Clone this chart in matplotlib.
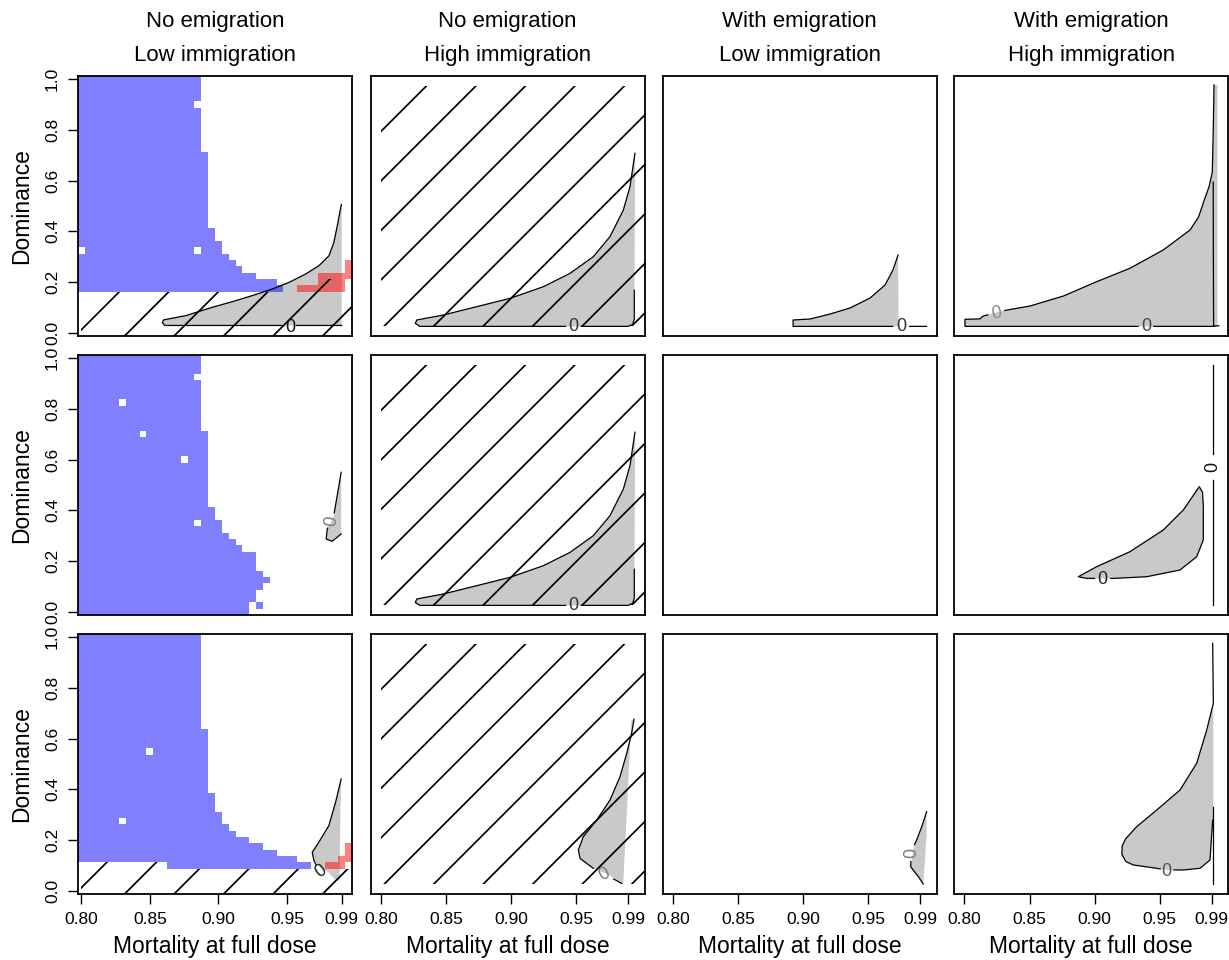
import numpy as np
import matplotlib
matplotlib.use("Agg")
import matplotlib.pyplot as plt
from matplotlib.patches import Polygon

plt.rcParams['font.family'] = ['Liberation Sans', 'DejaVu Sans']

# ---------------- text ----------------
title_top = ['No emigration', 'No emigration', 'With emigration', 'With emigration']
title_bot = ['Low immigration', 'High immigration', 'Low immigration', 'High immigration']
x_label = 'Mortality at full dose'
y_label = 'Dominance'
mort_ticks = [0.80, 0.85, 0.90, 0.95, 0.99]
mort_tick_labels = ['0.80', '0.85', '0.90', '0.95', '0.99']
dom_ticks = [0.0, 0.2, 0.4, 0.6, 0.8, 1.0]
dom_tick_labels = ['0.0', '0.2', '0.4', '0.6', '0.8', '1.0']

# simulated parameter cells (centres)
mort_cells = np.round(np.arange(0.800, 0.9951, 0.005), 3)
dom_cells = np.round(np.arange(0.0, 1.0001, 0.025), 3)

# ---------------- first column: blue / red cells ----------------
# bands: (dominance from, dominance to, mortality from, mortality to)
blue_row1 = [(0.175, 0.175, 0.80, 0.945), (0.2, 0.2, 0.80, 0.94), (0.225, 0.225, 0.80, 0.925),
             (0.25, 0.25, 0.80, 0.915), (0.275, 0.275, 0.80, 0.91), (0.3, 0.3, 0.80, 0.905),
             (0.325, 0.35, 0.80, 0.90), (0.375, 0.4, 0.80, 0.895), (0.425, 0.7, 0.80, 0.89),
             (0.725, 1.0, 0.80, 0.885)]
holes_row1 = [(0.80, 0.325), (0.885, 0.325), (0.885, 0.9)]
red_row1 = [(0.96, 0.175), (0.965, 0.175), (0.97, 0.175), (0.975, 0.175), (0.98, 0.175),
            (0.985, 0.175), (0.99, 0.175), (0.975, 0.2), (0.98, 0.2), (0.985, 0.2), (0.99, 0.2),
            (0.975, 0.225), (0.98, 0.225), (0.985, 0.225), (0.99, 0.225), (0.995, 0.225),
            (0.995, 0.25), (0.995, 0.275)]

blue_row2 = [(0.0, 0.025, 0.80, 0.92), (0.05, 0.075, 0.80, 0.925), (0.1, 0.1, 0.80, 0.93),
             (0.125, 0.125, 0.80, 0.935), (0.15, 0.15, 0.80, 0.93), (0.175, 0.225, 0.80, 0.925),
             (0.25, 0.25, 0.80, 0.915), (0.275, 0.275, 0.80, 0.91), (0.3, 0.3, 0.80, 0.905),
             (0.325, 0.35, 0.80, 0.90), (0.375, 0.4, 0.80, 0.895), (0.425, 0.7, 0.80, 0.89),
             (0.725, 1.0, 0.80, 0.885), (0.025, 0.025, 0.93, 0.93)]
holes_row2 = [(0.885, 0.925), (0.83, 0.825), (0.845, 0.7), (0.875, 0.6), (0.885, 0.35)]
red_row2 = []

blue_row3 = [(0.1, 0.1, 0.865, 0.965), (0.125, 0.125, 0.80, 0.955), (0.15, 0.15, 0.80, 0.94),
             (0.175, 0.175, 0.80, 0.93), (0.2, 0.2, 0.80, 0.92), (0.225, 0.225, 0.80, 0.91),
             (0.25, 0.25, 0.80, 0.905), (0.275, 0.3, 0.80, 0.90), (0.325, 0.375, 0.80, 0.895),
             (0.4, 0.625, 0.80, 0.89), (0.65, 1.0, 0.80, 0.885)]
holes_row3 = [(0.85, 0.55), (0.83, 0.275)]
red_row3 = [(0.98, 0.1), (0.985, 0.1), (0.99, 0.1), (0.99, 0.125), (0.995, 0.125),
            (0.995, 0.15), (0.995, 0.175)]

# ---------------- hatched areas ----------------
hatch_r1c1_x = [0.80, 0.80, 0.9475, 0.9475, 0.9725, 0.9725, 1.01, 1.01]
hatch_r1c1_y = [-0.05, 0.1625, 0.1625, 0.1875, 0.1875, 0.2125, 0.2125, -0.05]
hatch_r3c1_x = [0.80, 0.80, 0.8625, 0.8625, 1.01, 1.01]
hatch_r3c1_y = [-0.05, 0.1125, 0.1125, 0.0875, 0.0875, -0.05]
hatch_c2_x = [0.80, 0.80, 1.01, 1.01]
hatch_c2_y = [0.0, 1.0, 1.0, 0.0]

# ---------------- grey regions and zero contours ----------------
nan = np.nan
g11_x = [0.859, 0.860, 0.8763, 0.8957, 0.9103, 0.9249, 0.9394, 0.9516, 0.9637, 0.9734, 0.9807,
         0.9843, 0.9868, 0.9897, 0.990, 0.990, 0.861]
g11_y = [0.040, 0.051, 0.068, 0.101, 0.123, 0.147, 0.173, 0.199, 0.232, 0.265, 0.304,
         0.357, 0.423, 0.506, 0.506, 0.029, 0.029]
l11_x = [0.9897, 0.9868, 0.9843, 0.9807, 0.9734, 0.9637, 0.9516, 0.9394, 0.9249, 0.9103, 0.8957,
         0.8763, 0.860, 0.859, 0.861, 0.948, nan, 0.957, 0.990]
l11_y = [0.506, 0.423, 0.357, 0.304, 0.265, 0.232, 0.199, 0.173, 0.147, 0.123, 0.101,
         0.068, 0.051, 0.040, 0.029, 0.029, nan, 0.029, 0.029]

g12_x = [0.8265, 0.8276, 0.8480, 0.8737, 0.8993, 0.9249, 0.9454, 0.9633, 0.9761, 0.9864, 0.9915,
         0.9953, 0.9955, 0.9948, 0.9935, 0.990, 0.830]
g12_y = [0.012, 0.0265, 0.0472, 0.0818, 0.1164, 0.1648, 0.2202, 0.2895, 0.3725, 0.4835, 0.5803,
         0.719, 0.70, 0.03, 0.008, 0.0, 0.0]
l12_x = [0.9953, 0.9915, 0.9864, 0.9761, 0.9633, 0.9454, 0.9249, 0.8993, 0.8737, 0.8480, 0.8276,
         0.8265, 0.830, 0.942, nan, 0.954, 0.990, 0.9935, 0.9948, 0.9948]
l12_y = [0.719, 0.5803, 0.4835, 0.3725, 0.2895, 0.2202, 0.1648, 0.1164, 0.0818, 0.0472, 0.0265,
         0.012, 0.0, 0.0, nan, 0.0, 0.0, 0.008, 0.03, 0.15]

g13_x = [0.8924, 0.9055, 0.9209, 0.9362, 0.9516, 0.9631, 0.9692, 0.9731, 0.9735, 0.8924]
g13_y = [0.0265, 0.0306, 0.0514, 0.0763, 0.1179, 0.1719, 0.2342, 0.2965, 0.0, 0.0]
l13_x = [0.9731, 0.9692, 0.9631, 0.9516, 0.9362, 0.9209, 0.9055, 0.8924, 0.8924, 0.969, nan, 0.982, 0.995]
l13_y = [0.2965, 0.2342, 0.1719, 0.1179, 0.0763, 0.0514, 0.0306, 0.0265, 0.0, 0.0, nan, 0.0, 0.0]

g14_x = [0.8004, 0.8118, 0.8145, 0.8250, 0.835, 0.8504, 0.876, 0.9016, 0.9272, 0.9528, 0.9734,
         0.9800, 0.9840, 0.9880, 0.9905, 0.9913, 0.9918, 0.9945, 0.9945, 0.8004]
g14_y = [0.0294, 0.031, 0.0431, 0.058, 0.070, 0.0846, 0.126, 0.1856, 0.2413, 0.3173, 0.4004,
         0.455, 0.520, 0.580, 0.640, 0.8296, 1.0028, 1.0028, 0.0, 0.0]
l14_x = [0.9918, 0.9913, 0.9905, 0.9880, 0.9840, 0.9800, 0.9734, 0.9528, 0.9272, 0.9016, 0.876,
         0.8504, 0.835, 0.831, nan, 0.818, 0.8145, 0.8118, 0.8004, 0.8004, 0.9335, nan, 0.9455, 0.9925]
l14_y = [1.0028, 0.8296, 0.640, 0.580, 0.520, 0.455, 0.4004, 0.3173, 0.2413, 0.1856, 0.126,
         0.0846, 0.070, 0.066, nan, 0.048, 0.0431, 0.031, 0.0294, 0.0, 0.0, nan, 0.0, 0.0]
l14b_x = [0.9912, 0.9913, 0.9915, 0.9955]
l14b_y = [0.60, 0.30, 0.0, 0.003]

g21_x = [0.9896, 0.9867, 0.9843, 0.9815, 0.9794, 0.9787, 0.983, 0.9896]
g21_y = [0.55, 0.458, 0.379, 0.345, 0.327, 0.287, 0.278, 0.307]
l21_x = [0.9896, 0.9867, 0.9845, nan, 0.9798, 0.9794, 0.9787, 0.983, 0.9896]
l21_y = [0.55, 0.458, 0.390, nan, 0.330, 0.327, 0.287, 0.278, 0.307]

g24_x = [0.8875, 0.9016, 0.9272, 0.9528, 0.9682, 0.9805, 0.9830, 0.9836, 0.9836, 0.9785, 0.9657,
         0.9401, 0.9144, 0.894]
g24_y = [0.119, 0.1607, 0.223, 0.313, 0.396, 0.493, 0.470, 0.41, 0.2716, 0.202, 0.147,
         0.119, 0.112, 0.112]
l24_x = [0.9125, 0.9144, 0.9401, 0.9657, 0.9785, 0.9836, 0.9836, 0.9830, 0.9805, 0.9682, 0.9528,
         0.9272, 0.9016, 0.8875, 0.894, 0.900]
l24_y = [0.112, 0.112, 0.119, 0.147, 0.202, 0.2716, 0.41, 0.470, 0.493, 0.396, 0.313, 0.223,
         0.1607, 0.119, 0.112, 0.112]
l24b_x = [0.9908, 0.9908, nan, 0.9908, 0.9908]
l24b_y = [0.9987, 0.63, nan, 0.52, 0.0015]

g31_x = [0.9896, 0.9855, 0.9806, 0.9733, 0.9685, 0.9697, 0.9746, 0.9800, 0.9850, 0.9885, 0.9890]
g31_y = [0.441, 0.349, 0.257, 0.192, 0.152, 0.119, 0.093, 0.075, 0.045, 0.04, 0.30]
l31_x = [0.9896, 0.9855, 0.9806, 0.9733, 0.9685, 0.9697, 0.9715]
l31_y = [0.441, 0.349, 0.257, 0.192, 0.152, 0.119, 0.100]

g32_x = [0.9946, 0.9928, 0.989, 0.9838, 0.9761, 0.9659, 0.9556, 0.9518, 0.9531, 0.9633, 0.975,
         0.9851, 0.9863, 0.9925]
g32_y = [0.686, 0.628, 0.5445, 0.447, 0.35, 0.267, 0.198, 0.143, 0.108, 0.0665, 0.04,
         0.004, 0.0, 0.68]
l32_x = [0.9946, 0.9928, 0.989, 0.9838, 0.9761, 0.9659, 0.9556, 0.9518, 0.9531, 0.9633, nan,
         0.979, 0.9851]
l32_y = [0.686, 0.628, 0.5445, 0.447, 0.35, 0.267, 0.198, 0.143, 0.108, 0.0665, nan,
         0.022, 0.004]

g33_x = [0.9951, 0.9913, 0.9874, 0.9850, 0.9828, 0.9887, 0.9925, 0.9950]
g33_y = [0.302, 0.2396, 0.1843, 0.150, 0.0734, 0.032, 0.0015, 0.20]
l33_x = [0.9951, 0.9913, 0.9874, 0.9858, nan, 0.9829, 0.9828, 0.9887, 0.9925]
l33_y = [0.302, 0.2396, 0.1843, 0.165, nan, 0.095, 0.0734, 0.032, 0.0015]

g34_x = [0.9913, 0.9862, 0.9785, 0.9657, 0.9478, 0.9324, 0.9240, 0.9212, 0.9210, 0.9240, 0.9298,
         0.9478, 0.9555, 0.9682, 0.9811, 0.9887, 0.9913]
g34_y = [0.752, 0.641, 0.503, 0.392, 0.309, 0.2396, 0.190, 0.160, 0.125, 0.095, 0.0805,
         0.0668, 0.060, 0.0597, 0.0668, 0.101, 0.30]
l34_x = [0.9908, 0.9913, 0.9862, 0.9785, 0.9657, 0.9478, 0.9324, 0.9240, 0.9212, 0.9210, 0.9240,
         0.9298, 0.9478, 0.9505, nan, 0.9610, 0.9682, 0.9811, 0.9887, 0.9908]
l34_y = [1.0015, 0.752, 0.641, 0.503, 0.392, 0.309, 0.2396, 0.190, 0.160, 0.125, 0.095,
         0.0805, 0.0668, 0.064, nan, 0.0600, 0.0597, 0.0668, 0.101, 0.267]
l34b_x = [0.9913, 0.9913]
l34b_y = [0.32, 0.0]

# contour labels: (mortality, dominance, rotation, colour)
lab11 = [(0.9524, 0.022, 0, '#111111')]
lab12 = [(0.948, 0.0, 0, '#333333')]
lab13 = [(0.9754, 0.0, 0, '#333333')]
lab14 = [(0.8248, 0.052, 10, '#8a8a8a'), (0.9395, 0.0, 0, '#444444')]
lab21 = [(0.9825, 0.358, 80, '#7a7a7a')]
lab24 = [(0.9063, 0.108, 0, '#222222'), (0.9908, 0.576, 90, '#111111')]
lab31 = [(0.9746, 0.076, 35, '#222222')]
lab32 = [(0.9718, 0.040, 30, '#7a7a7a')]
lab33 = [(0.9836, 0.129, 90, '#7a7a7a')]
lab34 = [(0.9555, 0.053, 0, '#555555')]

# panel table built from the arrays above
panels = {
    (0, 0): dict(cells=(blue_row1, holes_row1, red_row1), hatch=(hatch_r1c1_x, hatch_r1c1_y),
                 grey=[(g11_x, g11_y)], lines=[(l11_x, l11_y)], labels=lab11),
    (0, 1): dict(hatch=(hatch_c2_x, hatch_c2_y), grey=[(g12_x, g12_y)], lines=[(l12_x, l12_y)], labels=lab12),
    (0, 2): dict(grey=[(g13_x, g13_y)], lines=[(l13_x, l13_y)], labels=lab13),
    (0, 3): dict(grey=[(g14_x, g14_y)], lines=[(l14_x, l14_y), (l14b_x, l14b_y)], labels=lab14),
    (1, 0): dict(cells=(blue_row2, holes_row2, red_row2), grey=[(g21_x, g21_y)],
                 lines=[(l21_x, l21_y)], labels=lab21),
    (1, 1): dict(hatch=(hatch_c2_x, hatch_c2_y), grey=[(g12_x, g12_y)], lines=[(l12_x, l12_y)], labels=lab12),
    (1, 2): dict(),
    (1, 3): dict(grey=[(g24_x, g24_y)], lines=[(l24_x, l24_y), (l24b_x, l24b_y)], labels=lab24),
    (2, 0): dict(cells=(blue_row3, holes_row3, red_row3), hatch=(hatch_r3c1_x, hatch_r3c1_y),
                 grey=[(g31_x, g31_y)], lines=[(l31_x, l31_y)], labels=lab31),
    (2, 1): dict(hatch=(hatch_c2_x, hatch_c2_y), grey=[(g32_x, g32_y)], lines=[(l32_x, l32_y)], labels=lab32),
    (2, 2): dict(grey=[(g33_x, g33_y)], lines=[(l33_x, l33_y)], labels=lab33),
    (2, 3): dict(grey=[(g34_x, g34_y)], lines=[(l34_x, l34_y), (l34b_x, l34b_y)], labels=lab34),
}

BLUE = (0.0, 0.0, 1.0, 0.5)
RED = (1.0, 0.0, 0.0, 0.5)
GREY = '#c9c9c9'


def cell_image(bands, holes, reds):
    img = np.zeros((len(dom_cells), len(mort_cells), 4))
    D = dom_cells[:, None]
    M = mort_cells[None, :]
    for d0, d1, m0, m1 in bands:
        sel = (D >= d0 - 1e-6) & (D <= d1 + 1e-6) & (M >= m0 - 1e-6) & (M <= m1 + 1e-6)
        img[sel] = BLUE
    for m, d in holes:
        img[np.argmin(abs(dom_cells - d)), np.argmin(abs(mort_cells - m))] = 0
    for m, d in reds:
        img[np.argmin(abs(dom_cells - d)), np.argmin(abs(mort_cells - m))] = RED
    return img


def draw_hatch(ax, hx, hy, anchor, gap=49.5):
    poly = Polygon(np.column_stack([hx, hy]), closed=True, transform=ax.transData,
                   facecolor='none', edgecolor='none')
    ax.add_patch(poly)
    X0, Y0 = ax.transData.transform(anchor)
    bb = ax.bbox
    inv = ax.transData.inverted()
    xs = np.array([bb.x0 - 600, bb.x1 + 600])
    for k in range(-25, 26):
        c = Y0 - X0 + k * gap
        pts = inv.transform(np.column_stack([xs, xs + c]))
        ln, = ax.plot(pts[:, 0], pts[:, 1], color='black', lw=1.25, zorder=4)
        ln.set_clip_path(poly)


W, H = 1229.0, 960.0
col_left = [78, 370.7, 662.7, 954.3]
row_top = [76, 355, 634]
pw, ph = 274, 260

fig = plt.figure(figsize=(W / 100, H / 100), dpi=100)

for (r, c), spec in panels.items():
    ax = fig.add_axes([col_left[c] / W, 1 - (row_top[r] + ph) / H, pw / W, ph / H])
    if c == 0:
        ax.set_xlim(0.7975, 0.9975)
        ax.set_ylim(-0.0125, 1.0125)
    else:
        ax.set_xlim(0.7922, 1.0028)
        ax.set_ylim(-0.04, 1.04)
    ax.set_autoscale_on(False)

    for gx, gy in spec.get('grey', []):
        ax.fill(gx, gy, color=GREY, lw=0, zorder=1)
    if 'cells' in spec:
        ax.imshow(cell_image(*spec['cells']), extent=(0.7975, 0.9975, -0.0125, 1.0125),
                  origin='lower', interpolation='nearest', aspect='auto', zorder=2)
    for lx, ly in spec.get('lines', []):
        ax.plot(np.array(lx, float), np.array(ly, float), color='black', lw=0.9, zorder=3)
    if 'hatch' in spec:
        anchor = (0.80, 0.0125) if c == 0 else (0.8024, 0.0)
        draw_hatch(ax, *spec['hatch'], anchor=anchor)
    for mx, dy, rot, col in spec.get('labels', []):
        ax.text(mx, dy, '0', ha='center', va='center', rotation=rot, fontsize=13,
                color=col, zorder=6)

    for s in ax.spines.values():
        s.set_linewidth(1.3)
    ax.tick_params(direction='out', length=7, width=1.0, labelsize=12.5, pad=6)
    if c == 0:
        ax.set_yticks(dom_ticks)
        ax.set_yticklabels(dom_tick_labels, rotation=90, va='center')
    else:
        ax.set_yticks([])
    if r == 2:
        ax.set_xticks(mort_ticks)
        ax.set_xticklabels(mort_tick_labels)
    else:
        ax.set_xticks([])

for c in range(4):
    cx = (col_left[c] + pw / 2) / W
    fig.text(cx, 1 - 22 / H, title_top[c], ha='center', va='center', fontsize=16)
    fig.text(cx, 1 - 55 / H, title_bot[c], ha='center', va='center', fontsize=16)
    fig.text(cx, 1 - 947 / H, x_label, ha='center', va='center', fontsize=16.5)
for r in range(3):
    fig.text(22 / W, 1 - (row_top[r] + ph / 2) / H, y_label, ha='center', va='center',
             rotation=90, fontsize=16.5)

fig.savefig('out.png', dpi=100)
